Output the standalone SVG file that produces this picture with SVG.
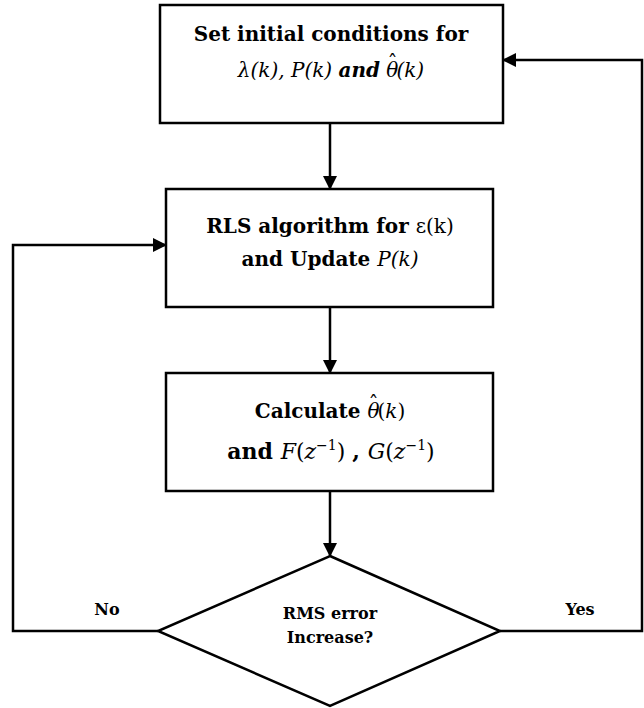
<svg xmlns="http://www.w3.org/2000/svg" width="644" height="708" viewBox="0 0 644 708">
<defs>
<marker id="arr" markerWidth="14" markerHeight="14" refX="13" refY="7" orient="auto" markerUnits="userSpaceOnUse">
<path d="M0,0 L14,7 L0,14 Z" fill="#000"/>
</marker>
<style>
.box{fill:#fff;stroke:#000;stroke-width:2.5}
.ln{fill:none;stroke:#000;stroke-width:2.5}
text{font-family:'DejaVu Serif','Liberation Serif',serif;fill:#000}
.t{font-size:20px;text-anchor:middle}
.b{font-weight:bold}
.i{font-style:italic}
.s{font-size:16px;font-weight:bold;text-anchor:middle}
</style>
</defs>
<rect width="644" height="708" fill="#fff"/>
<g id="connectors">
<line class="ln" x1="330" y1="123" x2="330" y2="189" marker-end="url(#arr)"/>
<line class="ln" x1="330" y1="307" x2="330" y2="373" marker-end="url(#arr)"/>
<line class="ln" x1="330" y1="491" x2="330" y2="556" marker-end="url(#arr)"/>
<polyline class="ln" points="158,631 13,631 13,245 166,245" marker-end="url(#arr)"/>
<polyline class="ln" points="500,631 642,631 642,60 503,60" marker-end="url(#arr)"/>
<text class="s" x="107" y="615">No</text>
<text class="s" x="580" y="615">Yes</text>
</g>
<g id="init">
<rect class="box" x="160" y="5" width="343" height="118"/>
<text class="t b" x="331" y="41">Set initial conditions for</text>
<text class="t" x="331" y="77"><tspan class="i">λ(k), P(k) </tspan><tspan class="i b">and</tspan><tspan class="i">  θ</tspan><tspan dx="-11" dy="-7">ˆ</tspan><tspan class="i" dx="-1" dy="7">(k)</tspan></text>
</g>
<g id="rls">
<rect class="box" x="166" y="189" width="327" height="118"/>
<text class="t" x="330" y="233"><tspan class="b">RLS algorithm for </tspan><tspan>ε(k)</tspan></text>
<text class="t" x="330" y="266"><tspan class="b">and Update </tspan><tspan class="i">P(k)</tspan></text>
</g>
<g id="calc">
<rect class="box" x="166" y="373" width="327" height="118"/>
<text class="t" x="330" y="418"><tspan class="b">Calculate </tspan><tspan class="i"> θ</tspan><tspan dx="-11" dy="-7">ˆ</tspan><tspan dx="-1" dy="7">(</tspan><tspan class="i">k</tspan><tspan>)</tspan></text>
<text class="t" x="331" y="459" style="font-size:22px"><tspan class="b">and  </tspan><tspan class="i">F</tspan><tspan>(</tspan><tspan class="i">z</tspan><tspan style="font-size:14px" dy="-9">−1</tspan><tspan dy="9">)  </tspan><tspan class="b">, </tspan><tspan class="i">G</tspan><tspan>(</tspan><tspan class="i">z</tspan><tspan style="font-size:14px" dy="-9">−1</tspan><tspan dy="9">)</tspan></text>
</g>
<g id="decision">
<polygon class="box" points="330,556 500,631 330,706 158,631"/>
<text class="s" x="330" y="619">RMS error</text>
<text class="s" x="330" y="643">Increase?</text>
</g>
</svg>
